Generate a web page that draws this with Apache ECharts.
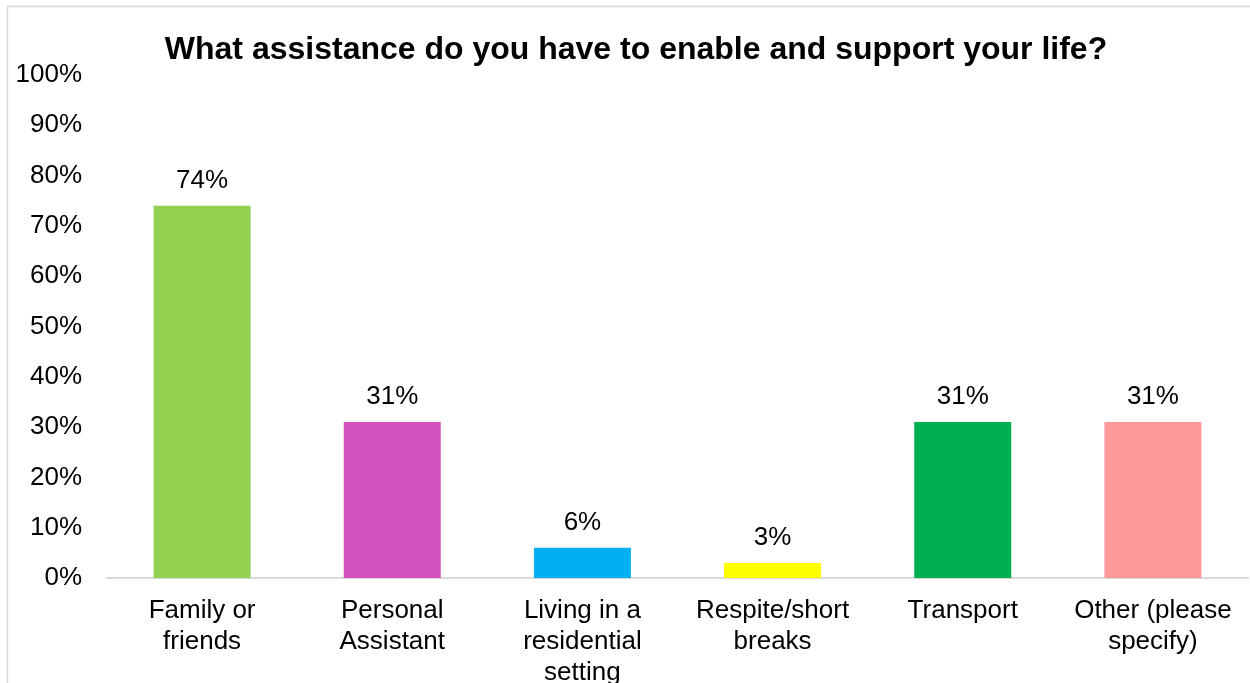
<!DOCTYPE html>
<html><head><meta charset="utf-8">
<script src="https://cdn.jsdelivr.net/npm/echarts@6/dist/echarts.min.js"></script>
<style>html,body{margin:0;padding:0;background:#fff}#c{width:1250px;height:683px}</style>
</head><body><div id="c"></div>
<script>
const categories = ['Family or\nfriends', 'Personal\nAssistant', 'Living in a\nresidential\nsetting', 'Respite/short\nbreaks', 'Transport', 'Other (please\nspecify)'];
const values = [74, 31, 6, 3, 31, 31];
const colors = ['#92D050', '#D452C0', '#00B0F0', '#FFFF00', '#00B050', '#FF9999'];
const titleText = 'What assistance do you have to enable and support your life?';

const chart = echarts.init(document.getElementById('c'));
const font = 'Liberation Sans, Arial, sans-serif';
chart.setOption({
  animation: false,
  backgroundColor: '#fff',
  title: {
    text: titleText, left: 631, top: 29, textAlign: 'center',
    textStyle: { fontFamily: font, fontSize: 32, fontWeight: 'bold', color: '#000' }
  },
  graphic: [{
    type: 'rect', shape: { x: 7.5, y: 6.5, width: 1260, height: 700 },
    style: { fill: 'none', stroke: '#d9d9d9', lineWidth: 1.5 }, silent: true
  }],
  grid: { left: 107, right: 2, top: 75, bottom: 105, containLabel: false, outerBoundsMode: 'none' },
  xAxis: {
    type: 'category', data: categories,
    axisLine: { lineStyle: { color: '#d9d9d9', width: 2 } },
    axisTick: { show: false },
    axisLabel: { fontFamily: font, fontSize: 26, color: '#000', lineHeight: 31, margin: 17, interval: 0 }
  },
  yAxis: {
    type: 'value', min: 0, max: 100, interval: 10,
    splitLine: { show: false },
    axisLine: { show: false }, axisTick: { show: false },
    axisLabel: { fontFamily: font, fontSize: 26, color: '#000', margin: 25, formatter: '{value}%' }
  },
  series: [{
    type: 'bar', barWidth: 97,
    data: values.map((v, i) => ({ value: v, itemStyle: { color: colors[i] } })),
    label: { show: true, position: 'top', distance: 12, fontFamily: font, fontSize: 26, color: '#000', formatter: '{c}%' }
  }]
});
</script></body></html>
